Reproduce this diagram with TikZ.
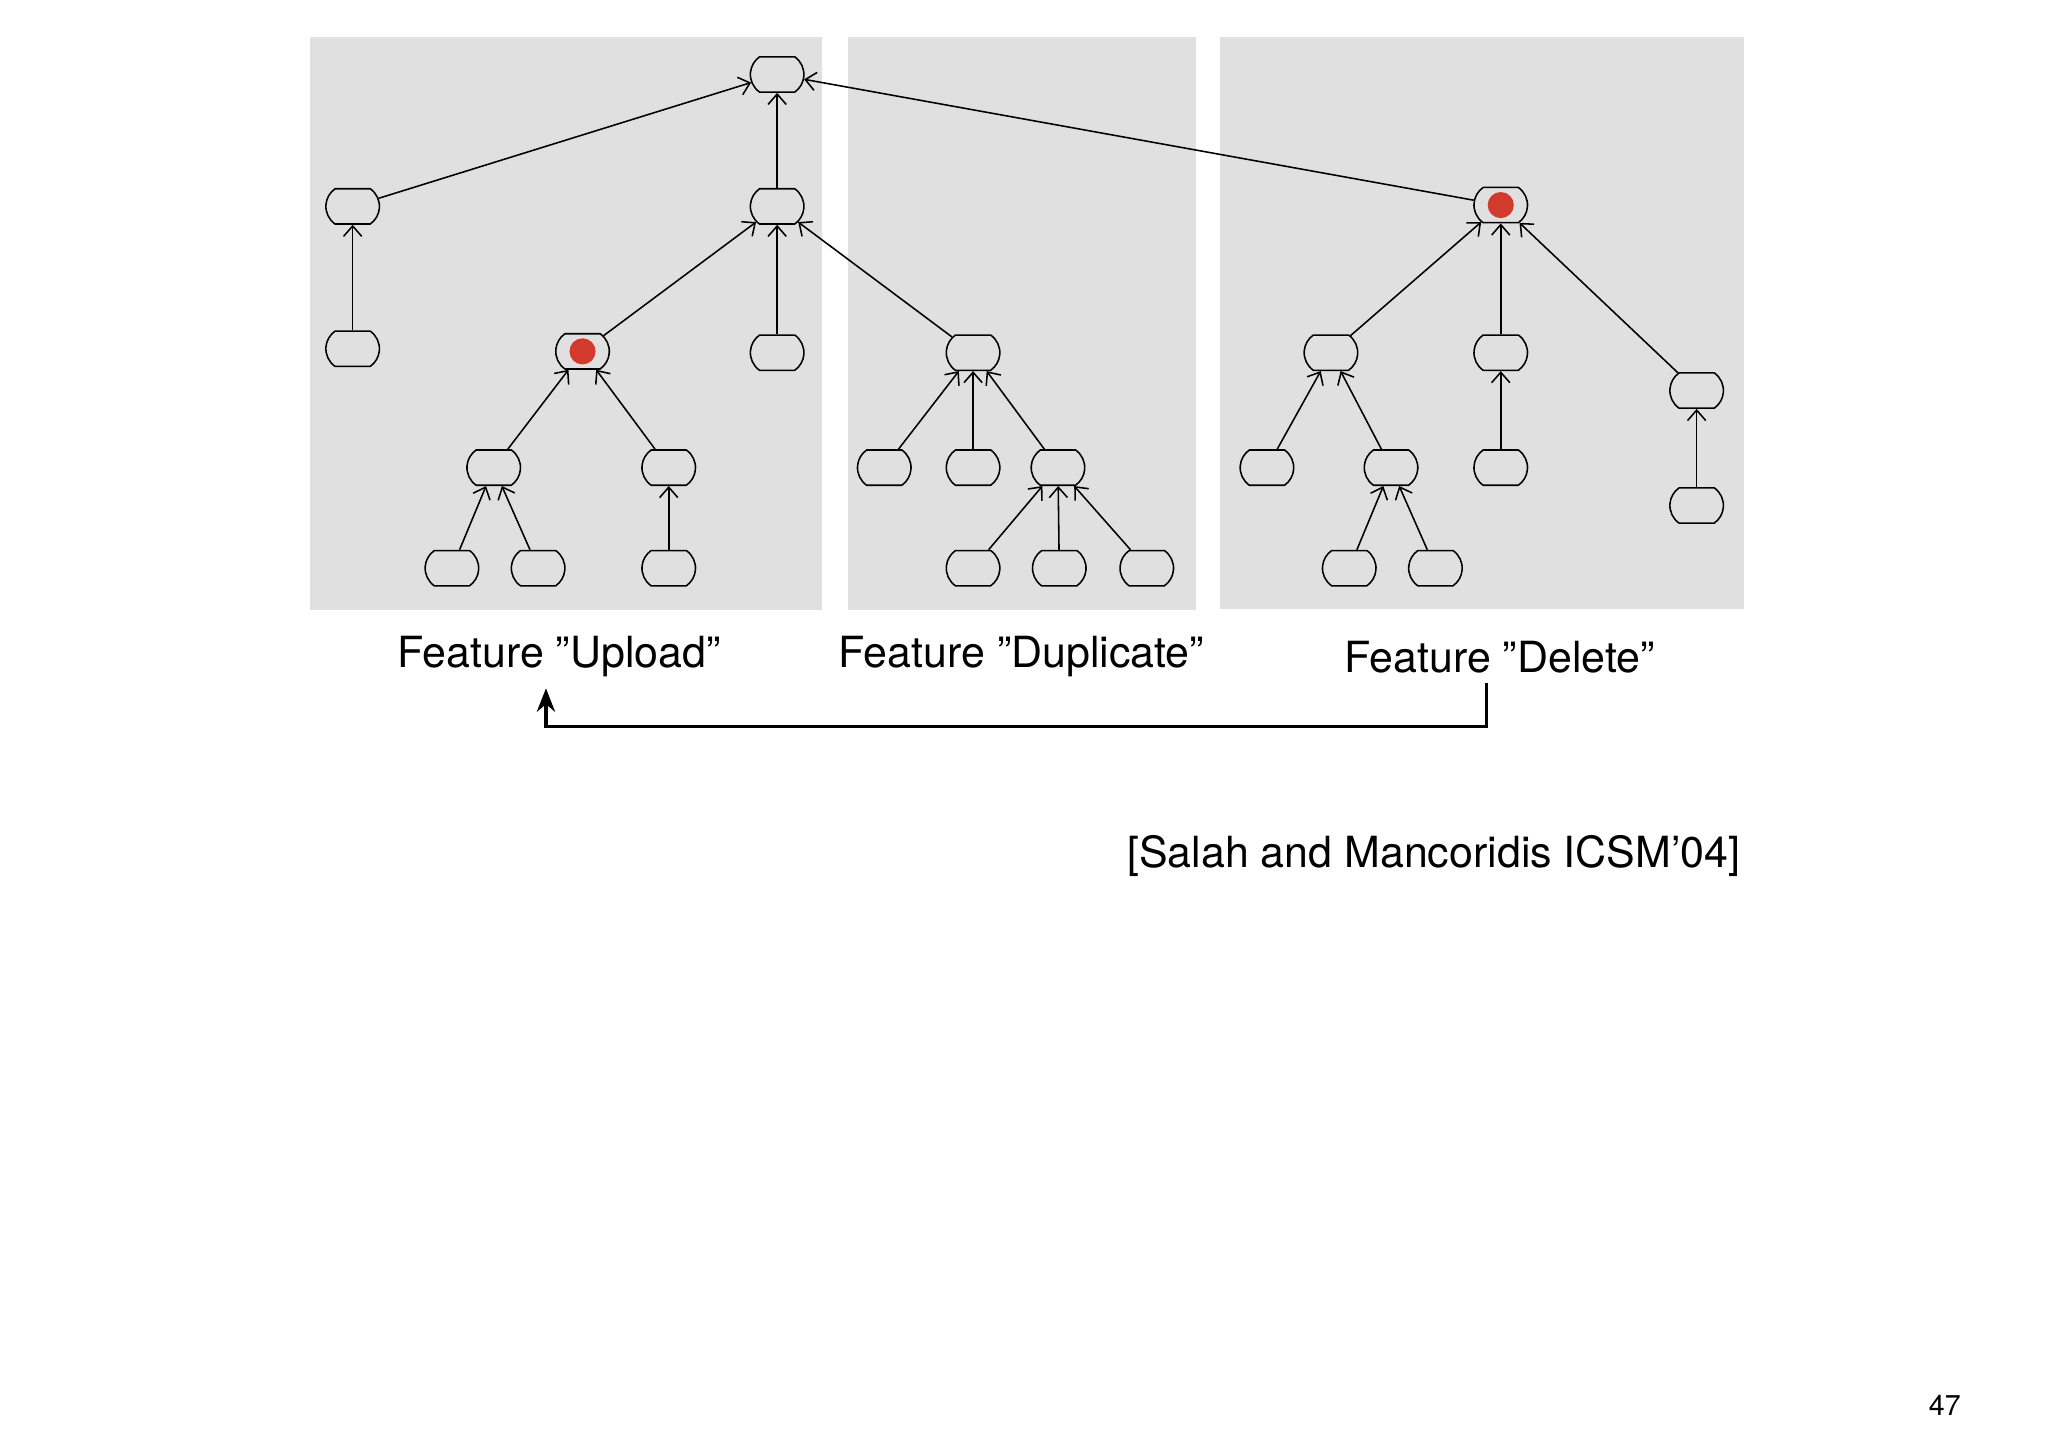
\documentclass[tikz,border=0pt]{standalone}
\usepackage{fontspec}
\setmainfont{TeX Gyre Heros}
\usetikzlibrary{shapes.misc,arrows.meta}
\definecolor{panel}{HTML}{E0E0E0}
\definecolor{dotred}{HTML}{D33A2E}
\tikzset{
 box/.style={draw,line width=0.6pt,rounded rectangle,rounded rectangle arc length=110,minimum width=20.5bp,minimum height=13.5bp,inner sep=0pt,fill=panel},
 red/.style={box,path picture={\fill[dotred] (path picture bounding box.center) circle (5bp);}},
 edge/.style={line width=0.6pt,-{Straight Barb[length=4pt,width=7pt]}},
 lbl/.style={font=\fontsize{16.5}{20}\selectfont,inner sep=0pt}
}
\begin{document}
\begin{tikzpicture}[x=0.5bp,y=-0.5bp]
\useasboundingbox[fill=white] (0,0) rectangle (1568,1108);
\fill[panel] (237,28) rectangle (629,467);
\fill[panel] (649,28) rectangle (916,467);
\fill[panel] (934,28) rectangle (1335,466);
\node[box] (root) at (595,57) {};
\node[box] (a) at (270,158) {};
\node[box] (a1) at (270,267) {};
\node[box] (b) at (595,158) {};
\node[red] (c) at (446,269) {};
\node[box] (b2) at (595,270) {};
\node[box] (c1) at (378,358) {};
\node[box] (c2) at (512,358) {};
\node[box] (c11) at (346,435) {};
\node[box] (c12) at (412,435) {};
\node[box] (c21) at (512,435) {};
\node[box] (d) at (745,270) {};
\node[box] (d1) at (677,358) {};
\node[box] (d2) at (745,358) {};
\node[box] (d3) at (810,358) {};
\node[box] (d31) at (745,435) {};
\node[box] (d32) at (811,435) {};
\node[box] (d33) at (878,435) {};
\node[red] (e) at (1149,157) {};
\node[box] (e1) at (1019,270) {};
\node[box] (e2) at (1149,270) {};
\node[box] (e3) at (1299,299) {};
\node[box] (e11) at (970,358) {};
\node[box] (e12) at (1065,358) {};
\node[box] (e21) at (1149,358) {};
\node[box] (e31) at (1299,387) {};
\node[box] (e121) at (1033,435) {};
\node[box] (e122) at (1099,435) {};
\foreach \c/\p in {a/root,b/root,e/root,a1/a,c/b,b2/b,d/b,c1/c,c2/c,c11/c1,c12/c1,c21/c2,d1/d,d2/d,d3/d,d31/d3,d32/d3,d33/d3,e1/e,e2/e,e3/e,e11/e1,e12/e1,e21/e2,e31/e3,e121/e12,e122/e12}
  \draw[edge] (\c) -- (\p);
\node[lbl] (lu) at (428,503) {Feature "Upload"};
\node[lbl] (ld) at (782,503) {Feature "Duplicate"};
\node[lbl] (le) at (1148,503) {Feature "Delete"};
\coordinate (s) at (1138,523);
\coordinate (t) at (418,527);
\draw[line width=1.3pt,-{Stealth[length=9pt,width=7pt]}] (s) -- (1138,556) -- (418,556) -- (t);
\node[lbl,anchor=east] (cite) at (1333,655) {[Salah and Mancoridis ICSM'04]};
\node[font=\fontsize{11}{13}\selectfont,inner sep=0pt] (pg) at (1489,1076) {47};
\end{tikzpicture}
\end{document}
